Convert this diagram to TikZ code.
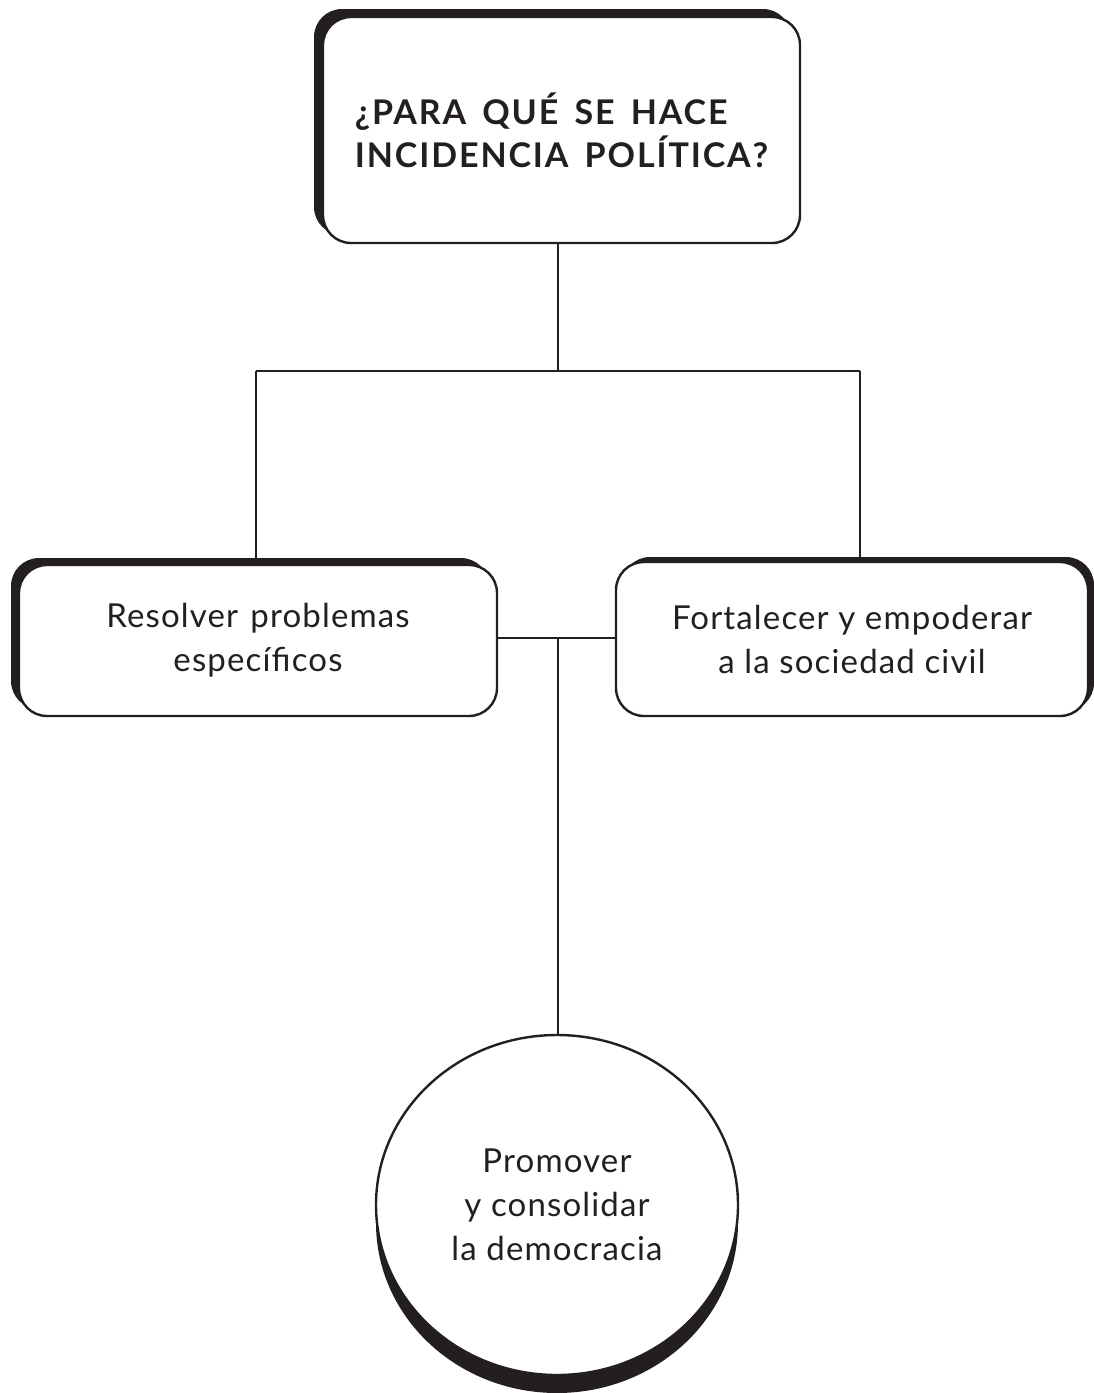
\documentclass[tikz,border=0pt]{standalone}
\usepackage{fontspec}
\setmainfont{Lato}
\newfontfamily\headfont{Lato}[LetterSpace=5.5,WordSpace=1.6]
\usetikzlibrary{shapes.geometric,shadows}
\definecolor{ink}{RGB}{35,31,32}

\begin{document}
\begin{tikzpicture}[x=1pt,y=-1pt,
  frame/.style={draw=ink, line width=2.4pt, fill=white, inner sep=0pt},
  panel/.style={frame, rounded corners=28pt},
  link/.style={draw=ink, line width=2pt},
  body/.style={font=\fontsize{33}{44}\selectfont\addfontfeatures{LetterSpace=3.5}, text=ink, align=center},
  title/.style={font=\headfont\bfseries\fontsize{34}{43}\selectfont, text=ink, align=left},
]
\useasboundingbox (0,0) rectangle (1094,1393);

% question box, shadow to the upper left
\node[panel, title, minimum width=477pt, minimum height=226pt,
      drop shadow={shadow xshift=-9pt, shadow yshift=8pt, fill=ink, opacity=1}]
  (q) at (561.5,130) {¿PARA QUÉ SE HACE\\INCIDENCIA POLÍTICA?};

% the two purposes
\node[panel, body, minimum width=478pt, minimum height=151pt,
      drop shadow={shadow xshift=-8pt, shadow yshift=7pt, fill=ink, opacity=1}]
  (l) at (258,640.5) {Resolver\hspace{0.08em} problemas\\específicos};
\node[panel, body, minimum width=472pt, minimum height=154pt,
      drop shadow={shadow xshift=6pt, shadow yshift=5pt, fill=ink, opacity=1}]
  (r) at (852,639) {Fortalecer y empoderar\\a la sociedad civil};

% democracy ellipse, shadow below
\node[frame, ellipse, body, minimum width=362pt, minimum height=340pt,
      drop shadow={shadow xshift=0pt, shadow yshift=-18pt, fill=ink, opacity=1}]
  (c) at (557,1205) {Promover\\y consolidar\\la democracia};

% connectors
\coordinate (hub) at (558,371);
\coordinate (hl) at (256,371);
\coordinate (hr) at (860,371);
\coordinate (mid) at (558,638);
\draw[link] (q.south -| hub) -- (hub);
\draw[link] (hl) -- (hr);
\draw[link] (hl) -- (l.north -| hl);
\draw[link] (hr) -- (r.north -| hr);
\draw[link] (l.east |- mid) -- (r.west |- mid);
\draw[link] (mid) -- (c.north -| mid);
\end{tikzpicture}
\end{document}
